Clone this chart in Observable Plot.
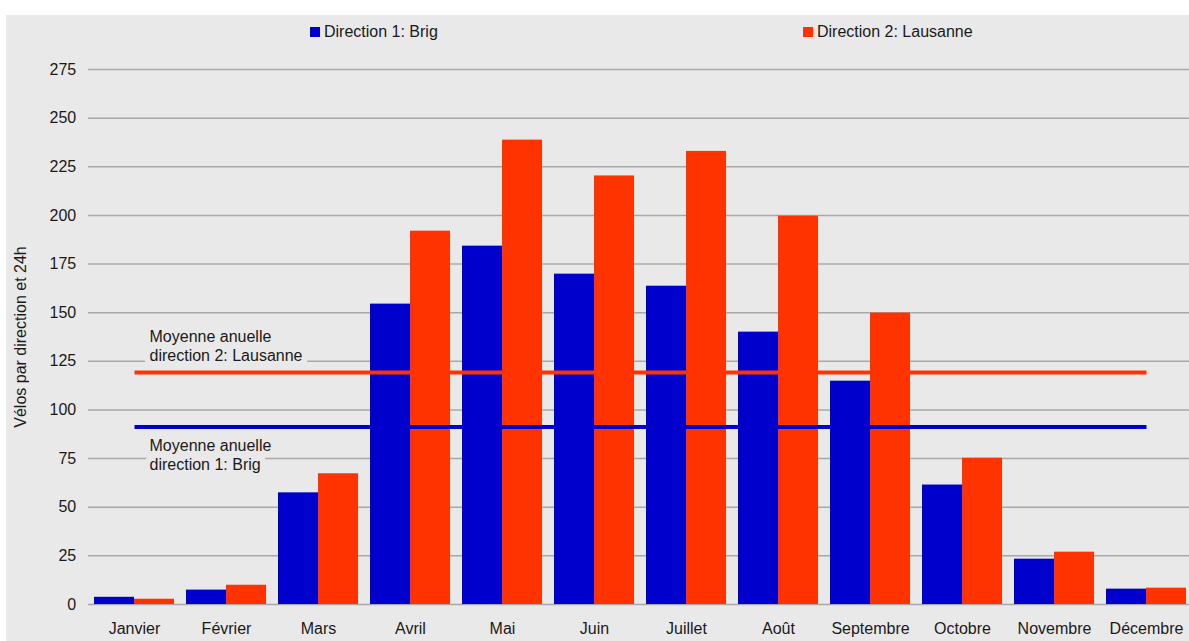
<!DOCTYPE html>
<html><head><meta charset="utf-8">
<script src="https://cdn.jsdelivr.net/npm/d3@7"></script>
<script src="https://cdn.jsdelivr.net/npm/@observablehq/plot@0.6"></script>
<style>
html,body{margin:0;padding:0;background:#fff;overflow:hidden;width:1189px;height:641px;}
#panel{position:absolute;left:6px;top:15px;width:1183px;height:626px;background:#e9e9e9;}
#chart{position:absolute;left:0;top:0;}
.leg{position:absolute;top:22px;height:20px;display:flex;align-items:center;font:16px "Liberation Sans",Arial,sans-serif;color:#1a1a1a;white-space:nowrap;}
.sw{width:10px;height:10px;margin-right:4px;}
</style></head><body>
<div id="panel"></div>
<div id="chart"></div>
<div id="legend"></div>
<script>
const months = ["Janvier","Février","Mars","Avril","Mai","Juin","Juillet","Août","Septembre","Octobre","Novembre","Décembre"];
const brig =     [3.7, 7.4, 57.4, 154.4, 184.2, 169.8, 163.6, 140.0, 114.8, 61.4, 23.3, 7.9];
const lausanne = [2.7, 9.9, 67.2, 191.9, 238.7, 220.3, 232.9, 199.6, 149.8, 75.2, 26.9, 8.4];
const seriesNames = ["Direction 1: Brig", "Direction 2: Lausanne"];
const seriesColors = ["#0000cc", "#ff3300"];
const meanValues = [91.2, 119.3];
const meanLabels = ["Moyenne anuelle\ndirection 1: Brig", "Moyenne anuelle\ndirection 2: Lausanne"];
const yTicks = [0, 25, 50, 75, 100, 125, 150, 175, 200, 225, 250, 275];
const yLabel = "Vélos par direction et 24h";

const rowsBrig = months.map((m, i) => ({month: m, series: seriesNames[0], value: brig[i]}));
const rowsLaus = months.map((m, i) => ({month: m, series: seriesNames[1], value: lausanne[i]}));
const meanRows = seriesNames.flatMap((s, i) => [
  {series: s, month: months[0], value: meanValues[i]},
  {series: s, month: months[months.length - 1], value: meanValues[i]}
]);
const labelRows = seriesNames.map((s, i) => ({series: s, month: months[0], value: meanValues[i], label: meanLabels[i]}));

const font = '"Liberation Sans", Arial, sans-serif';
const halo = {stroke: "#e9e9e9", strokeWidth: 12, strokeLinejoin: "round", paintOrder: "stroke"};

const chart = Plot.plot({
  width: 1189,
  height: 641,
  marginLeft: 88,
  marginRight: 0,
  marginTop: 69,
  marginBottom: 37,
  style: {background: "none", fontFamily: font, fontSize: "16px", color: "#1a1a1a", overflow: "visible"},
  x: {domain: months, range: [88, 1192], paddingInner: 0.13, paddingOuter: 0.065, tickSize: 0, tickPadding: 18.5, label: null},
  y: {domain: [0, 275], ticks: yTicks, tickSize: 0, tickPadding: 12.3, label: null},
  color: {domain: seriesNames, range: seriesColors},
  marks: [
    Plot.ruleY(yTicks, {stroke: "#a8a8a8", strokeWidth: 1.5}),
    Plot.text(labelRows.filter(d => d.series === seriesNames[1]), {x: "month", y: "value", text: "label", textAnchor: "start", lineAnchor: "middle", lineHeight: 1.2, dx: 15, dy: -27, fill: "#1a1a1a", fontSize: 16, ...halo}),
    Plot.text(labelRows.filter(d => d.series === seriesNames[0]), {x: "month", y: "value", text: "label", textAnchor: "start", lineAnchor: "middle", lineHeight: 1.2, dx: 15, dy: 27.5, fill: "#1a1a1a", fontSize: 16, ...halo}),
    Plot.barY(rowsBrig, {x: "month", y: "value", fill: "series", insetRight: 40}),
    Plot.barY(rowsLaus, {x: "month", y: "value", fill: "series", insetLeft: 40}),
    Plot.line(meanRows, {x: "month", y: "value", z: "series", stroke: "series", strokeWidth: 4, strokeLinecap: "butt"}),
    Plot.text([yLabel], {frameAnchor: "left", textAnchor: "middle", lineAnchor: "middle", rotate: -90, dx: -68, fontSize: 16, fill: "#1a1a1a"})
  ]
});
document.getElementById("chart").appendChild(chart);

const legendLeft = [310, 803];
const legend = document.getElementById("legend");
seriesNames.forEach((s, i) => {
  const item = document.createElement("div");
  item.className = "leg";
  item.style.left = legendLeft[i] + "px";
  const sw = document.createElement("div");
  sw.className = "sw";
  sw.style.background = seriesColors[i];
  item.appendChild(sw);
  item.appendChild(document.createTextNode(s));
  legend.appendChild(item);
});
</script>
</body></html>
